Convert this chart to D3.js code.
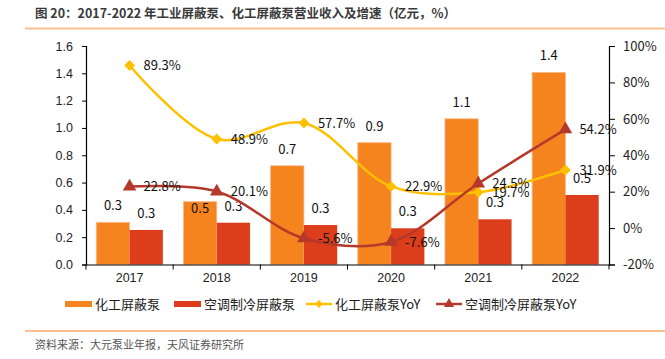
<!DOCTYPE html>
<html><head><meta charset="utf-8">
<script src="https://cdn.jsdelivr.net/npm/d3@7"></script>
<style>
body{margin:0;background:#fff;}
svg{display:block;}
</style></head>
<body>
<svg id="c" width="665" height="359"></svg>
<script>
const years = ["2017","2018","2019","2020","2021","2022"];
const chemRevenue = [0.309, 0.46, 0.723, 0.892, 1.067, 1.407];
const acRevenue = [0.253, 0.306, 0.289, 0.265, 0.331, 0.509];
const chemRevenueLabels = ["0.3","0.5","0.7","0.9","1.1","1.4"];
const acRevenueLabels = ["0.3","0.3","0.3","0.3","0.3","0.5"];
const chemYoY = [89.3, 48.9, 57.7, 22.9, 19.7, 31.9];
const acYoY = [22.8, 20.1, -5.6, -7.6, 24.5, 54.2];
const leftTicks = [0,0.2,0.4,0.6,0.8,1.0,1.2,1.4,1.6];
const rightTicks = [-20,0,20,40,60,80,100];
const seriesNames = ["化工屏蔽泵","空调制冷屏蔽泵","化工屏蔽泵YoY","空调制冷屏蔽泵YoY"];
const title = "图 20：2017-2022 年工业屏蔽泵、化工屏蔽泵营业收入及增速（亿元，%）";
const source = "资料来源：大元泵业年报，天风证券研究所";

const C_OR = "#F5841F", C_RD = "#DC3D1B", C_YL = "#FFC000", C_BR = "#B5392B";
const svg = d3.select("#c");
const cjk = "'Noto Sans CJK SC','Noto Sans',sans-serif";
const arial = "'Liberation Sans',Arial,sans-serif";

// title and rules
svg.append("text").attr("x",35).attr("y",18).attr("font-family",cjk).attr("font-size",12.5)
  .attr("font-weight","bold").attr("fill","#3a3a3a").text(title);
svg.append("line").attr("x1",25).attr("x2",665).attr("y1",28.5).attr("y2",28.5)
  .attr("stroke","#F9C08E").attr("stroke-width",2);
svg.append("line").attr("x1",25).attr("x2",665).attr("y1",331).attr("y2",331)
  .attr("stroke","#F7A870").attr("stroke-width",1.5);
svg.append("text").attr("x",35).attr("y",349).attr("font-family",cjk).attr("font-size",11)
  .attr("fill","#555").text(source);

const L = 86, R = 609, T = 46, B = 264.5;
const x = d3.scaleBand().domain(years).range([L,R]).padding(0);
const yL = d3.scaleLinear().domain([0,1.6]).range([B,T]);
const yR = d3.scaleLinear().domain([-20,100]).range([B,T]);
const bw = x.bandwidth()*0.382;
const off = (x.bandwidth()-2*bw)/2;

// bars
const g = svg.append("g");
g.selectAll(".bo").data(chemRevenue).join("rect")
  .attr("x",(d,i)=>x(years[i])+off).attr("width",bw)
  .attr("y",d=>yL(d)).attr("height",d=>yL(0)-yL(d))
  .attr("fill",C_OR).attr("stroke","#F9B98C").attr("stroke-width",0.8);
g.selectAll(".br").data(acRevenue).join("rect")
  .attr("x",(d,i)=>x(years[i])+off+bw).attr("width",bw)
  .attr("y",d=>yL(d)).attr("height",d=>yL(0)-yL(d))
  .attr("fill",C_RD);

// axes
const axL = svg.append("g").attr("transform",`translate(${L},0)`)
  .call(d3.axisLeft(yL).tickValues(leftTicks).tickFormat(d3.format(".1f")).tickSize(4).tickPadding(9));
axL.select(".domain").attr("stroke","#000").attr("stroke-width",1.2);
axL.selectAll("text").attr("font-family",arial).attr("font-size",12.5).attr("fill","#222");
const axR = svg.append("g").attr("transform",`translate(${R},0)`)
  .call(d3.axisRight(yR).tickValues(rightTicks).tickFormat(d=>d+"%").tickSize(6).tickPadding(8));
axR.select(".domain").attr("stroke","#000").attr("stroke-width",1.2);
axR.selectAll("text").attr("font-family",cjk).attr("font-size",13).attr("fill","#222");
const axB = svg.append("g").attr("transform",`translate(0,${B})`)
  .call(d3.axisBottom(x).tickSize(0).tickPadding(9));
axB.select(".domain").attr("stroke","#000").attr("stroke-width",1.2);
axB.selectAll("text").attr("font-family",arial).attr("font-size",12.5).attr("fill","#222");
axB.selectAll(".bt").data(years.concat(["end"])).join("line")
  .attr("x1",(d,i)=>L+i*x.bandwidth()).attr("x2",(d,i)=>L+i*x.bandwidth())
  .attr("y1",0).attr("y2",5).attr("stroke","#000");

// bar labels
const lab = svg.append("g").attr("font-family",cjk).attr("font-size",13).attr("fill","#111").attr("text-anchor","middle");
lab.selectAll(".lo").data(chemRevenue).join("text")
  .attr("x",(d,i)=>x(years[i])+off+bw/2)
  .attr("y",(d,i)=> i===1 ? yL(d)+11 : yL(d)-12)
  .text((d,i)=>chemRevenueLabels[i]);
lab.selectAll(".lr").data(acRevenue).join("text")
  .attr("x",(d,i)=>x(years[i])+off+bw*1.5)
  .attr("y",d=>yL(d)-12)
  .text((d,i)=>acRevenueLabels[i]);

// lines
const cx = i => x(years[i]) + x.bandwidth()/2;
const line = d3.line().x((d,i)=>cx(i)).y(d=>yR(d)).curve(d3.curveCatmullRom.alpha(0.5));
svg.append("path").attr("d",line(chemYoY)).attr("fill","none").attr("stroke",C_YL).attr("stroke-width",2.5);
svg.append("path").attr("d",line(acYoY)).attr("fill","none").attr("stroke",C_BR).attr("stroke-width",2.5);
const diamond = d3.symbol().type(d3.symbolDiamond2).size(75);
const tri = d3.symbol().type(d3.symbolTriangle).size(80);
svg.selectAll(".dm").data(chemYoY).join("path").attr("d",diamond)
  .attr("transform",(d,i)=>`translate(${cx(i)},${yR(d)})`).attr("fill",C_YL);
svg.selectAll(".tr").data(acYoY).join("path").attr("d",tri)
  .attr("transform",(d,i)=>`translate(${cx(i)},${yR(d)})`).attr("fill",C_BR);
const pl = svg.append("g").attr("font-family",cjk).attr("font-size",13).attr("fill","#111");
pl.selectAll(".py").data(chemYoY).join("text").attr("x",(d,i)=>cx(i)+14).attr("y",d=>yR(d)).attr("dy","0.36em")
  .text(d=>d.toFixed(1)+"%");
pl.selectAll(".pr").data(acYoY).join("text").attr("x",(d,i)=>cx(i)+14).attr("y",d=>yR(d)).attr("dy","0.36em")
  .text(d=>d.toFixed(1)+"%");

// legend
const lg = svg.append("g").attr("font-family",cjk).attr("font-size",13).attr("fill","#222");
const lx = [65,174,306,436];
const lw = [27,27,26,26];
seriesNames.forEach((n,i)=>{
  const yy = 304;
  if(i<2){
    lg.append("rect").attr("x",lx[i]).attr("y",yy-3).attr("width",lw[i]).attr("height",6).attr("fill",i===0?C_OR:C_RD);
  } else {
    const col = i===2?C_YL:C_BR;
    lg.append("line").attr("x1",lx[i]).attr("x2",lx[i]+lw[i]).attr("y1",yy).attr("y2",yy).attr("stroke",col).attr("stroke-width",2.5);
    lg.append("path").attr("d", i===2 ? d3.symbol().type(d3.symbolDiamond2).size(40)() : d3.symbol().type(d3.symbolTriangle).size(45)())
      .attr("transform",`translate(${lx[i]+lw[i]/2},${yy})`).attr("fill",col);
  }
  lg.append("text").attr("x",lx[i]+lw[i]+3).attr("y",yy).attr("dy","0.36em").text(n);
});
</script>
</body></html>
